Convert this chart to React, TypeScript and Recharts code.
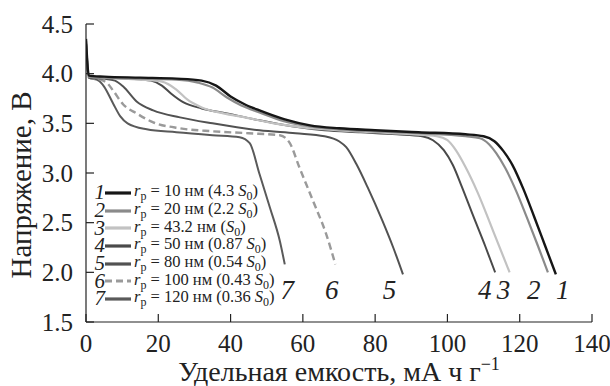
import React from 'react';
import { LineChart, Line, XAxis, YAxis, ReferenceDot, Label } from 'recharts';

// discharge curves: [capacity mA h/g, voltage V]
const curve1: [number, number][] = [
  [0, 4.35], [0.8, 3.98], [5, 3.97], [15, 3.96], [25, 3.95], [32, 3.93], [36, 3.88], [40, 3.77],
  [44, 3.69], [48, 3.63], [55, 3.54], [62, 3.48], [70, 3.45], [80, 3.43], [92, 3.41], [105, 3.39],
  [110, 3.37], [113, 3.32], [115.5, 3.22], [118, 3.08], [121, 2.84], [124, 2.56], [127, 2.27], [130, 1.98],
];
const curve2: [number, number][] = [
  [0, 4.33], [0.8, 3.97], [5, 3.96], [15, 3.95], [25, 3.94], [31, 3.91], [35, 3.86], [39, 3.76],
  [43, 3.68], [48, 3.61], [55, 3.52], [62, 3.47], [70, 3.44], [80, 3.42], [92, 3.4], [105, 3.37],
  [109, 3.35], [111.5, 3.29], [113.5, 3.2], [116, 3.05], [119, 2.82], [122, 2.55], [125, 2.27], [127.8, 2.0],
];
const curve3: [number, number][] = [
  [0, 4.3], [0.8, 3.97], [5, 3.96], [15, 3.94], [21, 3.92], [25, 3.84], [28, 3.74], [32, 3.66],
  [38, 3.6], [44, 3.56], [52, 3.5], [60, 3.46], [70, 3.43], [80, 3.41], [90, 3.39], [97, 3.37],
  [100, 3.33], [102.5, 3.22], [105, 3.06], [108.4, 2.8], [112.6, 2.42], [117.2, 2.0],
];
const curve4: [number, number][] = [
  [0, 4.3], [0.8, 3.97], [5, 3.96], [12, 3.95], [18, 3.93], [21, 3.88], [23.5, 3.8], [27, 3.71],
  [32, 3.65], [39, 3.6], [48, 3.53], [57, 3.47], [66, 3.43], [76, 3.41], [86, 3.39], [93, 3.37],
  [96, 3.33], [99, 3.23], [101.5, 3.08], [104, 2.86], [107, 2.58], [110.5, 2.26], [113.2, 2.0],
];
const curve5: [number, number][] = [
  [0, 4.3], [0.8, 3.96], [5, 3.95], [8, 3.93], [10.3, 3.87], [14, 3.72], [18.6, 3.63], [26, 3.56],
  [35, 3.5], [48, 3.43], [58, 3.4], [66, 3.37], [70, 3.32], [72, 3.26], [74.8, 3.09], [78, 2.85],
  [82, 2.52], [85, 2.25], [87.7, 1.98],
];
const curve6: [number, number][] = [
  [0, 4.3], [0.8, 3.96], [4, 3.94], [6, 3.9], [7.5, 3.83], [10.3, 3.69], [14, 3.6], [18.6, 3.51],
  [26, 3.45], [35, 3.42], [45, 3.4], [53.6, 3.38], [56.4, 3.3], [59, 3.06], [62.8, 2.72], [66.5, 2.38],
  [69, 2.08],
];
const curve7: [number, number][] = [
  [0, 4.3], [0.8, 3.96], [3.5, 3.93], [5, 3.87], [7.5, 3.7], [9.5, 3.57], [11.5, 3.5], [16.8, 3.44],
  [25, 3.41], [35, 3.38], [42.5, 3.36], [45.3, 3.3], [48, 2.99], [50.9, 2.65], [53.6, 2.32], [55, 2.08],
];

const poreSizes = ['10', '20', '43.2', '50', '80', '100', '120'];
const surfaceRatios = ['4.3', '2.2', '', '0.87', '0.54', '0.43', '0.36'];
// positions of the italic curve numbers under the curve ends
const labelX = [131.9, 123.9, 115.5, 110.3, 84, 68, 55.7];
const labelY = 1.83;

const xTicks = [0, 20, 40, 60, 80, 100, 120, 140];
const yTicks = [1.5, 2.0, 2.5, 3.0, 3.5, 4.0, 4.5];

const curves = [curve1, curve2, curve3, curve4, curve5, curve6, curve7];
const colors = ['#161616', '#8a8a8a', '#c2c2c2', '#4a4a4a', '#525252', '#9a9a9a', '#5a5a5a'];
const widths = [2.4, 2.2, 2.2, 2, 2, 2.4, 2];

const FONT = "'Liberation Serif', 'Times New Roman', Times, serif";
const toData = (c: [number, number][]) => c.map(([x, y]) => ({ x, y }));

const XTick = (props: any) => {
  const { x, y, payload } = props;
  return (
    <g>
      <line x1={x} x2={x} y1={y - 12} y2={y - 20} stroke="#222" strokeWidth={1.2} />
      <text x={x} y={y} dy="0.72em" textAnchor="middle" fontFamily={FONT} fontSize={25} fill="#222">
        {payload.value}
      </text>
    </g>
  );
};

const YTick = (props: any) => {
  const { x, y, payload } = props;
  return (
    <g>
      <line x1={x + 13} x2={x + 21} y1={y} y2={y} stroke="#222" strokeWidth={1.2} />
      <text x={x} y={y} dy="0.34em" textAnchor="end" fontFamily={FONT} fontSize={25} fill="#222">
        {Number(payload.value).toFixed(1)}
      </text>
    </g>
  );
};

const CurveLegend = () => (
  <div style={{ position: 'absolute', left: 90, top: 184, fontFamily: FONT, fontSize: 16.5, color: '#222' }}>
    {poreSizes.map((size, i) => (
      <div key={i} style={{ display: 'flex', alignItems: 'center', height: 17.7, whiteSpace: 'nowrap' }}>
        <span style={{ width: 15, textAlign: 'right', fontStyle: 'italic', fontSize: 21 }}>{i + 1}</span>
        <svg width={27} height={10}>
          <line x1={0} x2={26} y1={5} y2={5} stroke={colors[i]} strokeWidth={3.2}
            strokeDasharray={i === 5 ? '7 4' : undefined} />
        </svg>
        <span style={{ marginLeft: 2 }}>
          <i>r</i><sub style={{ fontSize: 12 }}>р</sub> = {size} нм (
          {surfaceRatios[i] ? `${surfaceRatios[i]} ` : ''}<i>S</i><sub style={{ fontSize: 12 }}>0</sub>)
        </span>
      </div>
    ))}
  </div>
);

export default function App() {
  return (
    <div style={{ position: 'absolute', left: 0, top: 0, width: 610, height: 386, background: '#fff' }}>
      <LineChart width={610} height={386} margin={{ top: 24, right: 18, left: 0, bottom: 0 }}>
        <XAxis
          type="number"
          dataKey="x"
          domain={[0, 140]}
          ticks={xTicks}
          allowDataOverflow
          height={64}
          tickSize={0}
          tickMargin={12}
          tick={<XTick />}
          axisLine={{ stroke: '#222', strokeWidth: 1.2 }}
        >
          <Label
            content={() => (
              <text x={339} y={381} textAnchor="middle" fontFamily={FONT} fontSize={28} fill="#222">
                Удельная емкость, мА ч г
                <tspan dy={-11} fontSize={18}>−1</tspan>
              </text>
            )}
          />
        </XAxis>
        <YAxis
          type="number"
          domain={[1.5, 4.5]}
          ticks={yTicks}
          allowDataOverflow
          width={86}
          tickSize={0}
          tickMargin={13}
          tick={<YTick />}
          axisLine={{ stroke: '#222', strokeWidth: 1.2 }}
        >
          <Label
            content={() => (
              <text x={21} y={185} transform="rotate(-90, 21, 185)" textAnchor="middle" dominantBaseline="central"
                fontFamily={FONT} fontSize={29} fill="#222">
                Напряжение, В
              </text>
            )}
          />
        </YAxis>
        {curves.map((c, i) => i).reverse().map((i) => (
          <Line
            key={i}
            data={toData(curves[i])}
            dataKey="y"
            type="monotone"
            stroke={colors[i]}
            strokeWidth={widths[i]}
            strokeDasharray={i === 5 ? '7 4' : undefined}
            dot={false}
            activeDot={false}
            isAnimationActive={false}
          />
        ))}
        {labelX.map((lx, i) => (
          <ReferenceDot
            key={`lbl-${i}`}
            x={lx}
            y={labelY}
            r={0}
            shape={(p: any) => (
              <text x={p.cx} y={p.cy} dy="0.35em" textAnchor="middle" fontFamily={FONT} fontStyle="italic"
                fontSize={27} fill="#222">
                {i + 1}
              </text>
            )}
          />
        ))}
      </LineChart>
      <CurveLegend />
    </div>
  );
}
